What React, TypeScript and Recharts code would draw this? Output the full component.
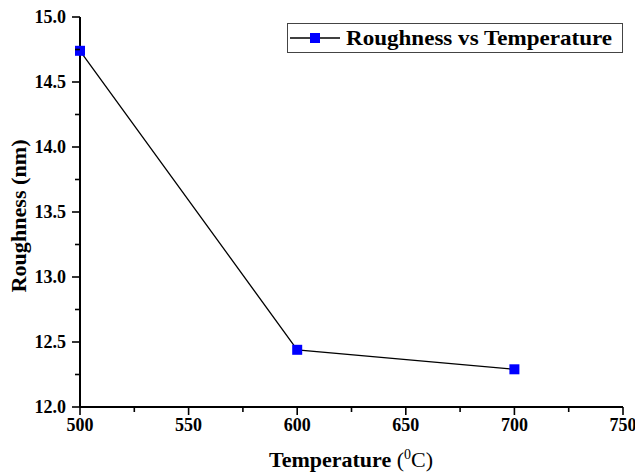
import React from "react";
import { LineChart, Line, XAxis, YAxis, Legend, Label } from "recharts";

const temperatures = [500, 600, 700];
const roughness = [14.74, 12.44, 12.29];

const xTicks = [500, 525, 550, 575, 600, 625, 650, 675, 700, 725, 750];
const xMajorTicks = [500, 550, 600, 650, 700, 750];
const yTicks = [12, 12.25, 12.5, 12.75, 13, 13.25, 13.5, 13.75, 14, 14.25, 14.5, 14.75, 15];
const yMajorTicks = [12, 12.5, 13, 13.5, 14, 14.5, 15];

const seriesName = "Roughness vs Temperature";

const data = temperatures.map((t, i) => ({ temperature: t, roughness: roughness[i] }));

const FONT = "'Times New Roman', 'Liberation Serif', serif";

const XTick = (props: any) => {
    const { x, y, payload } = props;
    const major = xMajorTicks.includes(payload.value);
    return (
        <g>
            <line x1={x} y1={y} x2={x} y2={y + (major ? 8 : 5)} stroke="#000" strokeWidth={1.6} />
            {major && (
                <text x={x} y={y + 24} textAnchor="middle" fontFamily={FONT} fontWeight="bold" fontSize={18} fill="#000">
                    {payload.value}
                </text>
            )}
        </g>
    );
};

const YTick = (props: any) => {
    const { x, y, payload } = props;
    const major = yMajorTicks.includes(payload.value);
    return (
        <g>
            <line x1={x} y1={y} x2={x - (major ? 8 : 5)} y2={y} stroke="#000" strokeWidth={1.6} />
            {major && (
                <text x={x - 14} y={y} dy="0.35em" textAnchor="end" fontFamily={FONT} fontWeight="bold" fontSize={18} fill="#000">
                    {payload.value.toFixed(1)}
                </text>
            )}
        </g>
    );
};

const SquareDot = (props: any) => {
    const { cx, cy } = props;
    if (cx == null || cy == null) return null;
    return <rect x={cx - 5} y={cy - 5} width={10} height={10} fill="#0000ff" />;
};

const LegendBox = () => (
    <svg width={336} height={30}>
        <rect x={0.5} y={0.5} width={335} height={29} fill="#fff" stroke="#444" strokeWidth={1} />
        <line x1={3} y1={15} x2={53} y2={15} stroke="#000" strokeWidth={1.5} />
        <rect x={23} y={10} width={10} height={10} fill="#0000ff" />
        <text x={59} y={22} fontFamily={FONT} fontWeight="bold" fontSize={21} fill="#000" textLength={266} lengthAdjust="spacingAndGlyphs">
            {seriesName}
        </text>
    </svg>
);

export default function App() {
    return (
        <div style={{ position: "absolute", top: 0, left: 0, width: 635, height: 473, background: "#fff" }}>
            <LineChart width={635} height={473} data={data} margin={{ top: 17, right: 12, bottom: 0, left: 0 }}>
                <XAxis
                    xAxisId="bottom"
                    type="number"
                    dataKey="temperature"
                    domain={[500, 750]}
                    ticks={xTicks}
                    interval={0}
                    tickSize={0}
                    tickMargin={0}
                    tickLine={false}
                    tick={<XTick />}
                    axisLine={{ stroke: "#000", strokeWidth: 2 }}
                    height={66}
                >
                    <Label
                        content={() => (
                            <text x={351} y={467} textAnchor="middle" fontFamily={FONT} fontSize={22} fill="#000">
                                <tspan fontWeight="bold">Temperature </tspan>
                                <tspan>(</tspan>
                                <tspan dy={-8} fontSize={14}>0</tspan>
                                <tspan dy={8}>C)</tspan>
                            </text>
                        )}
                    />
                </XAxis>
                <XAxis
                    xAxisId="top"
                    orientation="top"
                    type="number"
                    domain={[500, 750]}
                    height={0}
                    tick={false}
                    tickLine={false}
                    axisLine={{ stroke: "#000", strokeWidth: 2 }}
                />
                <YAxis
                    yAxisId="left"
                    type="number"
                    domain={[12, 15]}
                    ticks={yTicks}
                    interval={0}
                    tickSize={0}
                    tickMargin={0}
                    tickLine={false}
                    tick={<YTick />}
                    axisLine={{ stroke: "#000", strokeWidth: 2 }}
                    width={80}
                >
                    <Label
                        content={() => (
                            <text
                                x={0}
                                y={0}
                                transform="translate(26, 216) rotate(-90)"
                                textAnchor="middle"
                                fontFamily={FONT}
                                fontWeight="bold"
                                fontSize={21}
                                fill="#000"
                                textLength={153}
                                lengthAdjust="spacingAndGlyphs"
                            >
                                Roughness (nm)
                            </text>
                        )}
                    />
                </YAxis>
                <YAxis
                    yAxisId="right"
                    orientation="right"
                    type="number"
                    domain={[12, 15]}
                    width={0}
                    tick={false}
                    tickLine={false}
                    axisLine={{ stroke: "#000", strokeWidth: 2 }}
                />
                <Legend
                    layout="horizontal"
                    verticalAlign="middle"
                    content={() => <LegendBox />}
                    wrapperStyle={{ position: "absolute", top: 23, left: 287, width: 336, height: 30 }}
                />
                <Line
                    xAxisId="bottom"
                    yAxisId="left"
                    type="linear"
                    dataKey="roughness"
                    name={seriesName}
                    stroke="#000"
                    strokeWidth={1.3}
                    dot={<SquareDot />}
                    activeDot={false}
                    isAnimationActive={false}
                />
            </LineChart>
        </div>
    );
}
